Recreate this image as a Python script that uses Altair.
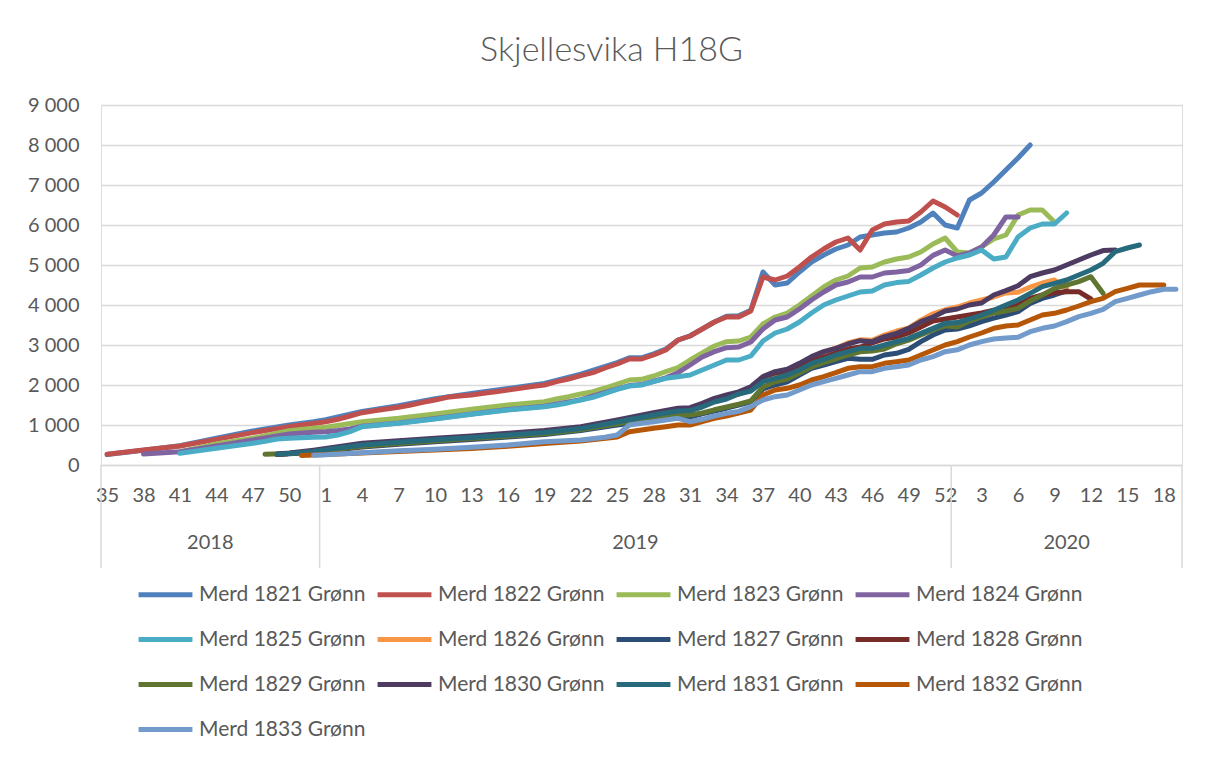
import altair as alt
import pandas as pd

# ---- categories (week numbers on the two-level axis) ----
weeks_2018 = list(range(35, 53))
weeks_2019 = list(range(1, 53))
weeks_2020 = list(range(1, 20))
tick_labels = [str(w) for w in weeks_2018 + weeks_2019 + weeks_2020]
year_names = ["2018", "2019", "2020"]
year_counts = [len(weeks_2018), len(weeks_2019), len(weeks_2020)]

series_names = [f"Merd {n} Grønn" for n in range(1821, 1834)]
series_colors = ["#4F81BD", "#C0504D", "#9BBB59", "#8064A2", "#4BACC6", "#F79646",
                 "#2C4D75", "#772C2A", "#5F7530", "#4D3B62", "#276A7C", "#B65708", "#729ACA"]

# (category index, value) pairs
s1821 = [(0,260),(3,370),(6,480),(9,670),(12,850),(15,1000),(17,1080),(18,1130),(21,1340),(24,1480),
         (27,1660),(30,1790),(33,1910),(36,2040),(39,2270),(42,2560),(43,2680),(44,2680),(45,2780),(46,2900),
         (47,3120),(48,3230),(49,3400),(50,3575),(51,3720),(52,3730),(53,3870),(54,4825),(55,4500),(56,4550),
         (57,4825),(58,5075),(59,5250),(60,5400),(61,5500),(62,5700),(63,5750),(64,5800),(65,5825),(66,5925),
         (67,6075),(68,6300),(69,6000),(70,5925),(71,6625),(72,6800),(73,7075),(74,7375),(75,7675),(76,8000)]
s1822 = [(0,270),(3,375),(6,475),(9,640),(12,810),(15,960),(17,1040),(18,1083),(19,1142),(20,1225),
         (21,1308),(22,1358),(23,1400),(24,1442),(25,1500),(26,1567),(27,1625),(28,1692),(29,1725),(30,1750),
         (31,1792),(32,1833),(33,1875),(34,1920),(35,1960),(36,2000),(37,2083),(38,2150),(39,2233),(40,2308),
         (41,2425),(42,2525),(43,2650),(44,2650),(45,2750),(46,2875),(47,3125),(48,3225),(49,3400),(50,3575),
         (51,3700),(52,3700),(53,3850),(54,4700),(55,4625),(56,4725),(57,4950),(58,5200),(59,5400),(60,5575),
         (61,5675),(62,5375),(63,5875),(64,6025),(65,6075),(66,6100),(67,6325),(68,6600),(69,6450),(70,6250)]
s1823 = [(6,330),(9,525),(12,667),(15,858),(17,920),(18,942),(21,1083),(24,1167),(27,1275),(30,1392),
         (33,1500),(36,1583),(37,1650),(38,1708),(39,1775),(40,1833),(41,1925),(42,2025),(43,2125),(44,2142),
         (45,2225),(46,2333),(47,2433),(48,2625),(49,2800),(50,2975),(51,3083),(52,3100),(53,3200),(54,3525),
         (55,3700),(56,3800),(57,4000),(58,4225),(59,4450),(60,4625),(61,4725),(62,4925),(63,4950),(64,5075),
         (65,5150),(66,5200),(67,5325),(68,5525),(69,5675),(70,5325),(71,5300),(72,5450),(73,5650),(74,5750),
         (75,6250),(76,6375),(77,6375),(78,6075)]
s1824 = [(3,275),(6,333),(9,475),(12,625),(15,775),(17,820),(18,830),(19,860),(20,900),(21,968),
         (24,1052),(27,1160),(30,1277),(33,1385),(36,1468),(39,1635),(42,1902),(43,1985),(44,2010),(45,2093),
         (46,2177),(47,2308),(48,2500),(49,2700),(50,2833),(51,2933),(52,2950),(53,3075),(54,3400),(55,3625),
         (56,3700),(57,3900),(58,4125),(59,4325),(60,4500),(61,4575),(62,4700),(63,4700),(64,4800),(65,4825),
         (66,4860),(67,5000),(68,5240),(69,5375),(70,5225),(71,5300),(72,5450),(73,5750),(74,6200),(75,6200)]
s1825 = [(6,292),(9,417),(12,542),(13,590),(14,650),(15,667),(17,692),(18,700),(19,750),(20,833),
         (21,958),(24,1042),(27,1150),(30,1267),(33,1375),(36,1458),(37,1500),(38,1558),(39,1625),(40,1692),
         (41,1792),(42,1892),(43,1975),(44,2000),(45,2083),(46,2167),(47,2208),(48,2250),(49,2375),(50,2500),
         (51,2625),(52,2625),(53,2725),(54,3100),(55,3300),(56,3400),(57,3575),(58,3800),(59,4000),(60,4125),
         (61,4225),(62,4325),(63,4350),(64,4500),(65,4560),(66,4590),(67,4750),(68,4925),(69,5075),(70,5175),
         (71,5250),(72,5375),(73,5150),(74,5200),(75,5700),(76,5925),(77,6025),(78,6025),(79,6300)]
s1826 = [(14,270),(15,290),(17,340),(18,375),(21,480),(24,550),(27,615),(30,675),(33,735),(36,800),
         (39,910),(42,1080),(45,1260),(47,1370),(48,1380),(49,1480),(50,1600),(51,1690),(52,1780),(53,1900),
         (54,2150),(55,2280),(56,2350),(57,2500),(58,2680),(59,2820),(60,2920),(61,3050),(62,3130),(63,3120),
         (64,3250),(65,3350),(66,3420),(67,3620),(68,3780),(69,3880),(70,3950),(71,4050),(72,4125),(73,4200),
         (74,4300),(75,4320),(76,4450),(77,4550),(78,4625),(79,4420)]
s1827 = [(14,260),(15,280),(17,320),(18,350),(21,450),(24,520),(27,580),(30,640),(33,700),(36,760),
         (39,860),(42,1000),(45,1120),(47,1180),(48,1200),(49,1280),(50,1350),(51,1420),(52,1500),(53,1580),
         (54,1900),(55,2000),(56,2080),(57,2250),(58,2417),(59,2500),(60,2583),(61,2667),(62,2642),(63,2642),
         (64,2750),(65,2792),(66,2892),(67,3083),(68,3250),(69,3375),(70,3400),(71,3480),(72,3583),(73,3670),
         (74,3750),(75,3833),(76,4042),(77,4167),(78,4250),(79,4350)]
s1828 = [(14,265),(15,285),(17,330),(18,360),(21,470),(24,540),(27,600),(30,660),(33,720),(36,790),
         (39,900),(42,1060),(45,1240),(47,1350),(48,1370),(49,1470),(50,1600),(51,1700),(52,1780),(53,1880),
         (54,2200),(55,2300),(56,2350),(57,2450),(58,2600),(59,2700),(60,2800),(61,2900),(62,2950),(63,3050),
         (64,3150),(65,3200),(66,3300),(67,3450),(68,3600),(69,3650),(70,3700),(71,3750),(72,3800),(73,3870),
         (74,3900),(75,4000),(76,4167),(77,4250),(78,4308),(79,4333),(80,4333),(81,4150)]
s1829 = [(13,270),(15,290),(17,330),(18,360),(21,470),(24,540),(27,600),(30,660),(33,720),(36,780),
         (39,880),(42,1030),(45,1180),(47,1250),(48,1250),(49,1300),(50,1380),(51,1450),(52,1520),(53,1600),
         (54,1950),(55,2080),(56,2150),(57,2300),(58,2450),(59,2560),(60,2650),(61,2750),(62,2830),(63,2850),
         (64,2900),(65,3030),(66,3120),(67,3250),(68,3380),(69,3480),(70,3450),(71,3600),(72,3700),(73,3800),
         (74,3850),(75,3917),(76,4100),(77,4250),(78,4417),(79,4500),(80,4583),(81,4708),(82,4292)]
s1830 = [(14,275),(15,300),(17,370),(18,410),(21,542),(24,608),(27,667),(30,725),(33,792),(36,860),
         (39,958),(42,1125),(45,1308),(47,1417),(48,1433),(49,1542),(50,1667),(51,1750),(52,1830),(53,1958),
         (54,2208),(55,2333),(56,2392),(57,2542),(58,2708),(59,2833),(60,2917),(61,3025),(62,3108),(63,3083),
         (64,3208),(65,3292),(66,3417),(67,3583),(68,3700),(69,3850),(70,3900),(71,4000),(72,4050),(73,4250),
         (74,4358),(75,4480),(76,4708),(77,4800),(78,4875),(79,5000),(80,5125),(81,5250),(82,5360),(83,5375)]
s1831 = [(14,270),(15,290),(17,340),(18,380),(21,500),(24,570),(27,630),(30,690),(33,750),(36,810),
         (39,910),(42,1075),(45,1250),(47,1350),(48,1360),(49,1450),(50,1575),(51,1650),(52,1775),(53,1850),
         (54,2083),(55,2167),(56,2250),(57,2375),(58,2542),(59,2642),(60,2750),(61,2833),(62,2917),(63,2917),
         (64,3000),(65,3083),(66,3167),(67,3292),(68,3417),(69,3542),(70,3560),(71,3650),(72,3750),(73,3870),
         (74,4000),(75,4125),(76,4292),(77,4458),(78,4542),(79,4625),(80,4750),(81,4875),(82,5042),(83,5333),
         (84,5425),(85,5500)]
s1832 = [(16,240),(17,250),(18,260),(21,300),(24,340),(27,375),(30,415),(33,470),(36,540),(39,600),
         (42,700),(43,833),(44,875),(45,917),(46,958),(47,1000),(48,1000),(49,1083),(50,1167),(51,1225),
         (52,1300),(53,1375),(54,1750),(55,1875),(56,1917),(57,2000),(58,2125),(59,2208),(60,2308),(61,2417),
         (62,2458),(63,2458),(64,2542),(65,2583),(66,2625),(67,2750),(68,2875),(69,3000),(70,3083),(71,3200),
         (72,3300),(73,3417),(74,3475),(75,3500),(76,3625),(77,3750),(78,3792),(79,3875),(80,3975),(81,4083),
         (82,4167),(83,4333),(84,4417),(85,4500),(86,4500),(87,4500)]
s1833 = [(17,245),(18,255),(21,308),(24,358),(27,392),(30,442),(33,500),(36,583),(39,625),(41,692),
         (42,750),(43,1000),(44,1042),(45,1083),(46,1125),(47,1167),(48,1083),(49,1142),(50,1225),(51,1292),
         (52,1340),(53,1458),(54,1625),(55,1708),(56,1750),(57,1875),(58,2000),(59,2083),(60,2167),(61,2250),
         (62,2333),(63,2333),(64,2417),(65,2458),(66,2500),(67,2625),(68,2708),(69,2833),(70,2880),(71,3000),
         (72,3083),(73,3150),(74,3175),(75,3192),(76,3333),(77,3417),(78,3475),(79,3583),(80,3708),(81,3792),
         (82,3892),(83,4083),(84,4167),(85,4250),(86,4333),(87,4392),(88,4392)]

all_series = [s1821, s1822, s1823, s1824, s1825, s1826, s1827, s1828, s1829, s1830, s1831, s1832, s1833]

rows = []
for name, pts in zip(series_names, all_series):
    for idx, val in pts:
        rows.append({"cat": idx, "value": val, "series": name})
df = pd.DataFrame(rows)

n_cat = len(tick_labels)
FONT = "Lato"
GREY = "#595959"
GRID = "#D9D9D9"

label_array = "[" + ",".join(f"'{t}'" for t in tick_labels) + "]"
x_scale = alt.Scale(domain=[-0.5, n_cat - 0.5], nice=False, zero=False)
x_axis = alt.Axis(title=None, values=list(range(0, n_cat, 3)), grid=False, ticks=False,
                  domain=True, domainColor=GRID, domainWidth=1.5,
                  labelExpr=f"{label_array}[datum.value]", labelFontSize=20, labelFont=FONT,
                  labelColor=GREY, labelPadding=20, labelFlush=False, labelOverlap=False)

# year group boundaries and centres
bounds = [-0.5]
for c in year_counts:
    bounds.append(bounds[-1] + c)
df_bounds = pd.DataFrame({"cat": bounds})
df_years = pd.DataFrame({"cat": [(bounds[i] + bounds[i + 1]) / 2 for i in range(3)], "year": year_names})

lines = alt.Chart(df).mark_line(strokeWidth=5, strokeCap="round", strokeJoin="round").encode(
    x=alt.X("cat:Q", scale=x_scale, axis=x_axis),
    y=alt.Y("value:Q", scale=alt.Scale(domain=[0, 9000], nice=False),
            axis=alt.Axis(title=None, values=list(range(0, 9001, 1000)), grid=True, gridColor=GRID,
                          gridWidth=1.5, ticks=False, domain=False, labelFontSize=20, labelFont=FONT,
                          labelColor=GREY, labelPadding=22,
                          labelExpr="replace(format(datum.value, ','), ',', ' ')")),
    color=alt.Color("series:N", scale=alt.Scale(domain=series_names, range=series_colors),
                    legend=alt.Legend(title=None, orient="none", legendX=35, legendY=460, columns=4,
                                      direction="horizontal",
                                      symbolType="stroke", symbolSize=2900, symbolStrokeWidth=5,
                                      labelFontSize=21, labelFont=FONT, labelColor=GREY,
                                      labelLimit=400, rowPadding=5, columnPadding=1, labelOffset=4,
                                      symbolLimit=0)),
    detail="series:N",
)

seps = alt.Chart(df_bounds).mark_rule(color=GRID, strokeWidth=1.5).encode(
    x=alt.X("cat:Q", scale=x_scale, axis=x_axis), y=alt.value(360), y2=alt.value(463))

years = alt.Chart(df_years).mark_text(font=FONT, fontSize=20, color=GREY, baseline="middle").encode(
    x=alt.X("cat:Q", scale=x_scale, axis=x_axis), y=alt.value(438), text="year:N")

chart = alt.layer(lines, seps, years).properties(
    width=1081, height=360,
    autosize=alt.AutoSizeParams(type="none"),
    padding={"left": 93, "top": 97, "right": 20, "bottom": 285},
    title=alt.TitleParams("Skjellesvika H18G", fontSize=34, font=FONT, fontWeight=300, color=GREY,
                          anchor="middle", dx=-30, offset=27),
).configure_view(stroke=None).configure(font=FONT)

chart.save("out.html", embed_options={"renderer": "svg", "actions": False})
